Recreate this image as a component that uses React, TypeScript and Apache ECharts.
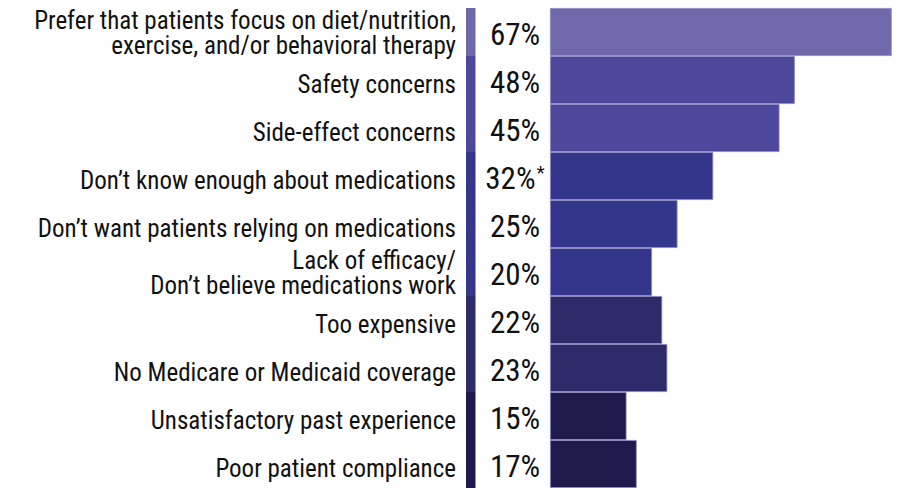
import React, { useEffect, useRef } from "react";
import * as echarts from "echarts";

const categories = [
  "Prefer that patients focus on diet/nutrition,\nexercise, and/or behavioral therapy",
  "Safety concerns",
  "Side-effect concerns",
  "Don’t know enough about medications",
  "Don’t want patients relying on medications",
  "Lack of efficacy/\nDon’t believe medications work",
  "Too expensive",
  "No Medicare or Medicaid coverage",
  "Unsatisfactory past experience",
  "Poor patient compliance",
];
const values = [67, 48, 45, 32, 25, 20, 22, 23, 15, 17];
const notes = ["", "", "", "*", "", "", "", "", "", ""];
const colors = [
  "#6f68ab",
  "#4e489c",
  "#4e489c",
  "#34368c",
  "#34368c",
  "#34368c",
  "#2e2b6b",
  "#2e2b6b",
  "#1f1a4d",
  "#1f1a4d",
];
const stripValues = categories.map(() => 1);

const FONT = "'Roboto Condensed', Roboto, sans-serif";

export default function App() {
  const ref = useRef<HTMLDivElement>(null);
  useEffect(() => {
    document.body.style.margin = "0";
    const chart = echarts.init(ref.current!, undefined, { renderer: "svg" });
    chart.setOption({
      animation: false,
      backgroundColor: "#ffffff",
      grid: [
        { left: 550, right: 10.3, top: 8, bottom: 0, containLabel: false },
        { left: 466, width: 9.5, top: 8, bottom: 0, containLabel: false },
      ],
      xAxis: [
        { type: "value", gridIndex: 0, min: 0, max: "dataMax", show: false },
        { type: "value", gridIndex: 1, min: 0, max: 1, show: false },
      ],
      yAxis: [
        {
          type: "category",
          gridIndex: 0,
          inverse: true,
          data: categories,
          axisLine: { show: false },
          axisTick: { show: false },
          axisLabel: {
            margin: 94,
            fontFamily: FONT,
            fontSize: 25,
            color: "#111111",
            align: "right",
            formatter: (v: string) =>
              v.includes("\n")
                ? v
                    .split("\n")
                    .map((l) => `{m|${l}}`)
                    .join("\n")
                : `{s|${v}}`,
            rich: {
              s: {
                fontFamily: FONT,
                fontSize: 25,
                color: "#111111",
                lineHeight: 33,
                verticalAlign: "bottom",
              },
              m: {
                fontFamily: FONT,
                fontSize: 25,
                color: "#111111",
                lineHeight: 24.5,
                padding: [2, 0, 0, 0],
              },
            },
          },
        },
        {
          type: "category",
          gridIndex: 1,
          inverse: true,
          data: categories,
          show: false,
        },
      ],
      series: [
        {
          type: "bar",
          xAxisIndex: 0,
          yAxisIndex: 0,
          barCategoryGap: 0,
          data: values.map((v, i) => ({
            value: v,
            itemStyle: { color: colors[i] },
          })),
          itemStyle: { borderColor: "#8b86c2", borderWidth: 0.8 },
          label: {
            show: true,
            position: [-35, "50%"],
            offset: [0, 2],
            align: "center",
            verticalAlign: "middle",
            formatter: (p: any) =>
              notes[p.dataIndex]
                ? `{v|${p.value}%}{s|${notes[p.dataIndex]}}`
                : `{v|${p.value}%}`,
            rich: {
              v: { fontFamily: FONT, fontSize: 31, color: "#111111" },
              s: {
                fontFamily: FONT,
                fontSize: 19,
                color: "#111111",
                verticalAlign: "top",
                padding: [0, 0, 12, 1],
              },
            },
          },
        },
        {
          type: "bar",
          xAxisIndex: 1,
          yAxisIndex: 1,
          barCategoryGap: 0,
          silent: true,
          data: stripValues.map((v, i) => ({
            value: v,
            itemStyle: { color: colors[i] },
          })),
        },
      ],
    });
    return () => chart.dispose();
  }, []);
  return (
    <div
      ref={ref}
      style={{ position: "absolute", left: 0, top: 0, width: 902, height: 488 }}
    />
  );
}
